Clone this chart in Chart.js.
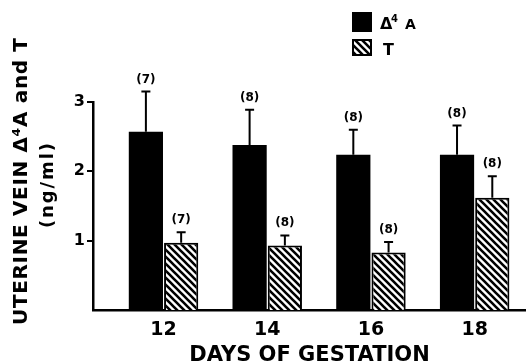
<!DOCTYPE html>
<html>
<head>
<meta charset="utf-8">
<script src="https://cdn.jsdelivr.net/npm/chart.js@4"></script>
<style>
  html, body { margin: 0; padding: 0; background: #fff; }
  #c { display: block; }
</style>
</head>
<body>
<canvas id="c" width="526" height="364"></canvas>
<script>
// データ
const days = [12, 14, 16, 18];
const valuesA = [2.57, 2.38, 2.24, 2.24];   // Δ4A 平均
const errorsA = [0.58, 0.51, 0.36, 0.42];   // Δ4A SE
const valuesT = [0.97, 0.93, 0.83, 1.62];   // T 平均
const errorsT = [0.15, 0.145, 0.15, 0.31];  // T SE
const countsA = [7, 8, 8, 8];
const countsT = [7, 8, 8, 8];
const yTicks = [1, 2, 3];

const FONT = '"DejaVu Sans", sans-serif';

// 斜線パターンを作る
function makeHatch() {
    const p = 7;
    const c = document.createElement('canvas');
    c.width = p; c.height = p;
    const g = c.getContext('2d');
    g.fillStyle = '#fff';
    g.fillRect(0, 0, p, p);
    g.strokeStyle = '#000';
    g.lineWidth = 2.6;
    g.beginPath();
    for (let k = -1; k <= 1; k++) {
        g.moveTo(-1, -1 + k * p);
        g.lineTo(p + 1, p + 1 + k * p);
    }
    g.stroke();
    return g.createPattern(c, 'repeat');
}
const hatch = makeHatch();

// 文字間隔を広げて指定の長さに合わせる
function spacedText(ctx, text, x, y, targetWidth) {
    ctx.letterSpacing = '0px';
    const w = ctx.measureText(text).width;
    const sp = Math.max(0, (targetWidth - w) / (text.length - 1));
    ctx.letterSpacing = sp.toFixed(2) + 'px';
    ctx.fillText(text, x + sp / 2, y);
    ctx.letterSpacing = '0px';
}

// エラーバーと例数ラベル、凡例、縦軸タイトルを描くプラグイン
const overlay = {
    id: 'overlay',
    afterDatasetsDraw(chart) {
        const ctx = chart.ctx;
        const y = chart.scales.y;
        const sets = [[valuesA, errorsA, countsA], [valuesT, errorsT, countsT]];
        ctx.save();
        sets.forEach(([vals, errs, counts], d) => {
            chart.getDatasetMeta(d).data.forEach((bar, i) => {
                const top = y.getPixelForValue(vals[i] + errs[i]);
                ctx.strokeStyle = '#000';
                ctx.lineWidth = 2;
                ctx.beginPath();
                ctx.moveTo(bar.x, bar.y);
                ctx.lineTo(bar.x, top);
                ctx.moveTo(bar.x - 4.5, top);
                ctx.lineTo(bar.x + 4.5, top);
                ctx.stroke();
                ctx.fillStyle = '#000';
                ctx.font = 'bold 12px ' + FONT;
                ctx.textAlign = 'center';
                ctx.textBaseline = 'alphabetic';
                ctx.fillText('(' + counts[i] + ')', bar.x, top - 9);
            });
        });
        ctx.restore();
    },
    afterDraw(chart) {
        const ctx = chart.ctx;
        ctx.save();
        // 凡例
        ctx.fillStyle = '#000';
        ctx.fillRect(352, 12, 20, 20);
        ctx.fillStyle = hatch;
        ctx.fillRect(352, 39, 20, 17);
        ctx.strokeStyle = '#000';
        ctx.lineWidth = 2;
        ctx.strokeRect(353, 40, 18, 15);
        ctx.fillStyle = '#000';
        ctx.textBaseline = 'alphabetic';
        ctx.textAlign = 'left';
        ctx.font = 'bold 16px ' + FONT;
        ctx.fillText('Δ', 380, 29);
        ctx.font = 'bold 10px ' + FONT;
        ctx.fillText('4', 391, 22);
        ctx.font = 'bold 14px ' + FONT;
        ctx.fillText('A', 405, 29);
        ctx.font = 'bold 16px ' + FONT;
        ctx.fillText('T', 383, 55);

        // 縦軸タイトル (2行)
        ctx.translate(21.5, 181.5);
        ctx.rotate(-Math.PI / 2);
        ctx.textAlign = 'center';
        ctx.textBaseline = 'middle';
        ctx.font = 'bold 20px ' + FONT;
        spacedText(ctx, 'UTERINE VEIN Δ⁴A and T', 0, 0, 287);
        ctx.font = 'bold 18px ' + FONT;
        spacedText(ctx, '(ng/ml)', -4, 26.5, 85);
        ctx.restore();
    }
};

new Chart(document.getElementById('c'), {
    type: 'bar',
    data: {
        datasets: [{
            label: 'Δ4A',
            data: days.map((d, i) => ({ x: d, y: valuesA[i] })),
            backgroundColor: '#000',
            borderWidth: 0,
            categoryPercentage: 0.68,
            barPercentage: 0.97
        }, {
            label: 'T',
            data: days.map((d, i) => ({ x: d, y: valuesT[i] })),
            backgroundColor: hatch,
            borderColor: '#000',
            borderWidth: 2,
            categoryPercentage: 0.68,
            barPercentage: 0.97
        }]
    },
    options: {
        responsive: false,
        animation: false,
        layout: { padding: { top: 102, left: 0, right: 0, bottom: 0 } },
        plugins: {
            legend: { display: false },
            tooltip: { enabled: false }
        },
        scales: {
            x: {
                type: 'linear',
                offset: false,
                min: 10.64,
                max: 18.99,
                afterBuildTicks: s => { s.ticks = days.map(v => ({ value: v })); },
                afterFit: s => { s.height = 54; },
                grid: { display: false, drawTicks: false },
                border: { display: true, color: '#000', width: 2.5 },
                ticks: {
                    color: '#000',
                    padding: 9,
                    font: { family: FONT, size: 19, weight: 'bold' }
                },
                title: {
                    display: true,
                    text: 'DAYS OF GESTATION',
                    color: '#000',
                    padding: { top: 0, bottom: -2 },
                    font: { family: FONT, size: 21, weight: 'bold', lineHeight: 1 }
                }
            },
            y: {
                min: 0,
                max: 3,
                afterBuildTicks: s => { s.ticks = yTicks.map(v => ({ value: v })); },
                afterFit: s => { s.width = 93; },
                grid: { display: true, drawOnChartArea: false, drawTicks: true, tickLength: 6, color: '#000', lineWidth: 2 },
                border: { display: true, color: '#000', width: 2.5 },
                ticks: {
                    color: '#000',
                    padding: 2,
                    font: { family: FONT, size: 16, weight: 'bold' }
                }
            }
        }
    },
    plugins: [overlay]
});
</script>
</body>
</html>
